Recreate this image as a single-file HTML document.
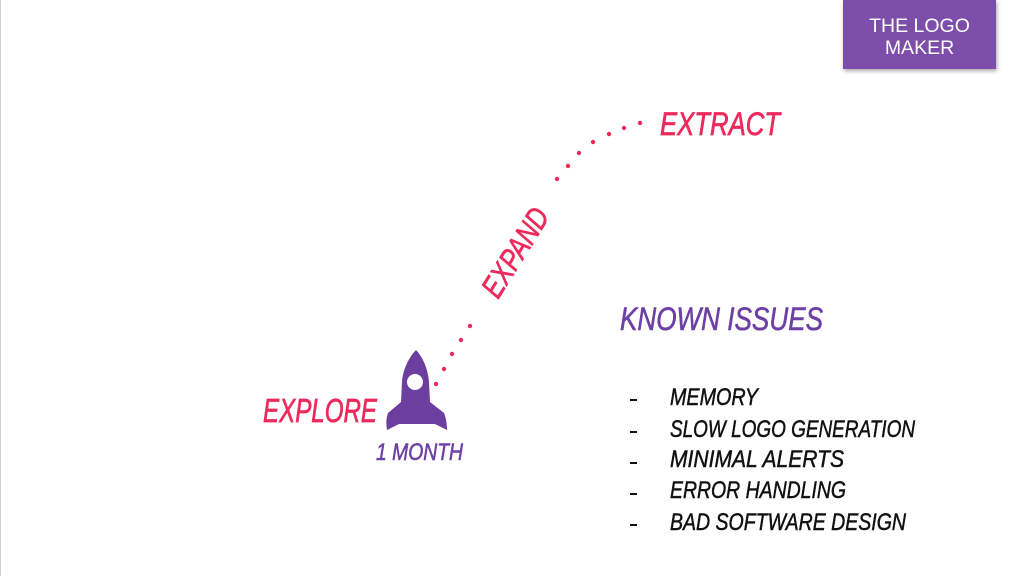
<!DOCTYPE html>
<html>
<head>
<meta charset="utf-8">
<style>
  html,body{margin:0;padding:0;background:#fff;}
  body{width:1024px;height:576px;overflow:hidden;position:relative;}
  .edge{position:absolute;left:0;top:0;width:1px;height:576px;background:#cfcfcf;}
  .logo{position:absolute;left:843px;top:0;width:153px;height:69px;background:#7d4ea9;
        box-shadow:1px 2px 4px rgba(0,0,0,0.35);color:#fff;
        font-family:"Liberation Sans",sans-serif;font-size:19.5px;line-height:22px;text-align:center;}
  .logo div{padding-top:15px;}
  svg{position:absolute;left:0;top:0;}
  .hand{font-family:"Liberation Sans",sans-serif;font-style:italic;}
</style>
</head>
<body>
<div class="edge"></div>
<div class="logo"><div>THE LOGO<br>MAKER</div></div>
<svg width="1024" height="576" viewBox="0 0 1024 576">
  <!-- dotted path -->
  <g fill="#ec2a5c">
    <circle cx="640" cy="123" r="2.2"/>
    <circle cx="624" cy="128" r="2.2"/>
    <circle cx="609" cy="134" r="2.2"/>
    <circle cx="593" cy="142" r="2.2"/>
    <circle cx="579" cy="153" r="2.2"/>
    <circle cx="568" cy="166" r="2.2"/>
    <circle cx="557" cy="179" r="2.2"/>
    <circle cx="470" cy="326" r="2.2"/>
    <circle cx="461" cy="340" r="2.2"/>
    <circle cx="452" cy="354" r="2.2"/>
    <circle cx="444" cy="369" r="2.2"/>
    <circle cx="436" cy="384" r="2.2"/>
  </g>
  <!-- rocket -->
  <path fill="#6c3e9f" d="M416,350 C422,356 428,368 429,382 L430,402 L444,413 C446,418 447,424 447,430 L435,424 L399,424 L387,430 C386,424 386,418 388,413 L401,402 L402,382 C403,368 410,356 416,350 Z"/>
  <circle cx="415" cy="382" r="8" fill="#fff"/>

  <g class="hand" fill="#ec2a5c" stroke="#ec2a5c" stroke-width="0.7">
    <text x="660" y="135" font-size="32" textLength="120" lengthAdjust="spacingAndGlyphs">EXTRACT</text>
    <text x="263" y="422" font-size="33" textLength="114" lengthAdjust="spacingAndGlyphs">EXPLORE</text>
    <text x="0" y="0" font-size="31" textLength="99" lengthAdjust="spacingAndGlyphs" transform="translate(498,300) rotate(-58)">EXPAND</text>
  </g>
  <g class="hand" fill="#6d40a5" stroke="#6d40a5" stroke-width="0.6">
    <text x="376" y="460" font-size="24" textLength="87" lengthAdjust="spacingAndGlyphs">1 MONTH</text>
    <text x="620" y="330" font-size="32" textLength="203" lengthAdjust="spacingAndGlyphs">KNOWN ISSUES</text>
  </g>
  <g fill="#111">
    <rect x="630" y="399" width="7" height="2"/>
    <rect x="630" y="431" width="7" height="2"/>
    <rect x="630" y="462" width="7" height="2"/>
    <rect x="630" y="493" width="7" height="2"/>
    <rect x="630" y="524" width="7" height="2"/>
  </g>
  <g class="hand" fill="#111" stroke="#111" stroke-width="0.5" font-size="24">
    <text x="670" y="405" textLength="88" lengthAdjust="spacingAndGlyphs">MEMORY</text>
    <text x="670" y="437" textLength="245" lengthAdjust="spacingAndGlyphs">SLOW LOGO GENERATION</text>
    <text x="670" y="467" textLength="174" lengthAdjust="spacingAndGlyphs">MINIMAL ALERTS</text>
    <text x="670" y="498" textLength="176" lengthAdjust="spacingAndGlyphs">ERROR HANDLING</text>
    <text x="670" y="530" textLength="236" lengthAdjust="spacingAndGlyphs">BAD SOFTWARE DESIGN</text>
  </g>
</svg>
</body>
</html>
